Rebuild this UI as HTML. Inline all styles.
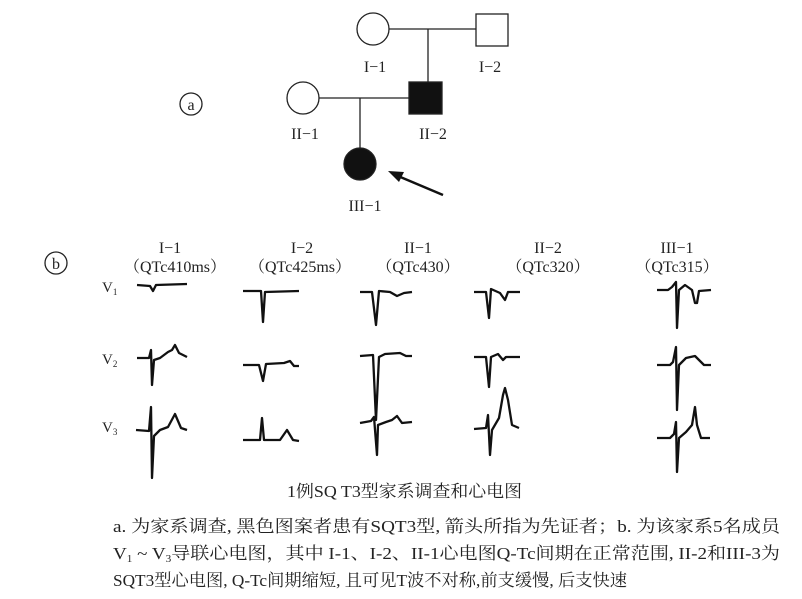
<!DOCTYPE html>
<html><head><meta charset="utf-8"><style>
body{margin:0;background:#fff;width:802px;height:599px;overflow:hidden}
svg{display:block}
text{font-family:"Liberation Serif","Noto Serif CJK SC",serif;fill:#222}
.t{font-family:"Liberation Serif","Noto Serif CJK SC","Noto Sans CJK SC",serif}
</style></head><body>
<svg width="802" height="599" viewBox="0 0 802 599" xmlns="http://www.w3.org/2000/svg">
<g stroke="#222" stroke-width="1.3" fill="#fff">
<line x1="389" y1="29" x2="476" y2="29"/>
<line x1="428" y1="29" x2="428" y2="82"/>
<line x1="319" y1="98" x2="409" y2="98"/>
<line x1="360" y1="98" x2="360" y2="148"/>
<circle cx="373" cy="29" r="16"/>
<rect x="476" y="14" width="32" height="32"/>
<circle cx="303" cy="98" r="16"/>
<rect x="409" y="82" width="33" height="32" fill="#111"/>
<circle cx="360" cy="164" r="16" fill="#111"/>
<circle cx="191" cy="104" r="11"/>
<circle cx="56" cy="263" r="11"/>
</g>
<line x1="443" y1="195" x2="398" y2="176" stroke="#111" stroke-width="2.5"/>
<polygon points="388,171 404,172 399,182" fill="#111"/>
<g font-size="16" text-anchor="middle">
<text x="191" y="110">a</text><text x="56" y="269">b</text>
<text x="375" y="72">I−1</text><text x="490" y="72">I−2</text>
<text x="305" y="139">II−1</text><text x="433" y="139">II−2</text>
<text x="365" y="211">III−1</text>
<text x="170" y="253">I−1</text><text x="175" y="272">（QTc410ms）</text>
<text x="302" y="253">I−2</text><text x="300" y="272">（QTc425ms）</text>
<text x="418" y="253">II−1</text><text x="418" y="272">（QTc430）</text>
<text x="548" y="253">II−2</text><text x="548" y="272">（QTc320）</text>
<text x="677" y="253">III−1</text><text x="677" y="272">（QTc315）</text>
</g>
<g font-size="15">
<text x="102" y="292">V<tspan font-size="9" dy="3">1</tspan></text>
<text x="102" y="364">V<tspan font-size="9" dy="3">2</tspan></text>
<text x="102" y="432">V<tspan font-size="9" dy="3">3</tspan></text>
</g>
<g stroke="#111" stroke-width="2.3" fill="none" stroke-linejoin="round">
<polyline points="137,285 150,286 153,291 156,285 187,284"/>
<polyline points="137,358 149,358 151,350 152,385 154,360 160,358 168,352 172,350 175,345 179,353 187,357"/>
<polyline points="136,430 149,431 151,407 152,478 154,436 160,430 168,427 175,414 181,428 187,430"/>
<polyline points="243,291 261,291 263,322 265,292 299,291"/>
<polyline points="243,365 259,365 263,381 266,364 284,363 290,361 294,366 299,366"/>
<polyline points="243,440 260,440 262,418 264,440 280,440 287,430 293,440 299,441"/>
<polyline points="360,292 372,292 376,325 379,291 390,292 397,296 404,293 412,292"/>
<polyline points="360,356 373,355 376,420 379,357 385,354 400,353 406,356 412,356"/>
<polyline points="360,423 371,421 374,417 377,455 378,425 386,422 392,420 397,416 402,423 412,422"/>
<polyline points="474,292 486,292 489,318 491,289 500,293 505,300 508,292 520,292"/>
<polyline points="474,357 486,357 489,387 491,357 498,354 503,360 506,357 520,357"/>
<polyline points="474,429 486,428 488,415 490,455 492,430 499,418 503,395 505,388 508,400 512,425 519,428"/>
<polyline points="657,290 668,290 672,287 676,282 677,328 679,290 685,285 692,290 695,303 697,303 699,291 711,290"/>
<polyline points="657,365 670,365 673,362 676,347 677,410 679,365 686,358 695,356 699,360 704,365 711,365"/>
<polyline points="657,438 670,438 674,434 676,422 677,472 679,438 686,432 692,425 695,407 697,425 701,438 710,438"/>
</g>
<text x="287" y="497" font-size="17" textLength="235" lengthAdjust="spacingAndGlyphs" class="t">1例SQ T3型家系调查和心电图</text>
<g font-size="17" class="t">
<text x="113" y="532" textLength="667" lengthAdjust="spacingAndGlyphs">a. 为家系调查, 黑色图案者患有SQT3型, 箭头所指为先证者；b. 为该家系5名成员</text>
<text x="113" y="559" textLength="667" lengthAdjust="spacingAndGlyphs">V<tspan font-size="10" dy="3">1</tspan><tspan dy="-3"> ~ V</tspan><tspan font-size="10" dy="3">3</tspan><tspan dy="-3">导联心电图，其中 I-1、I-2、II-1心电图Q-Tc间期在正常范围, II-2和III-3为</tspan></text>
<text x="113" y="586" textLength="514" lengthAdjust="spacingAndGlyphs">SQT3型心电图, Q-Tc间期缩短, 且可见T波不对称,前支缓慢, 后支快速</text>
</g>
</svg>
</body></html>
